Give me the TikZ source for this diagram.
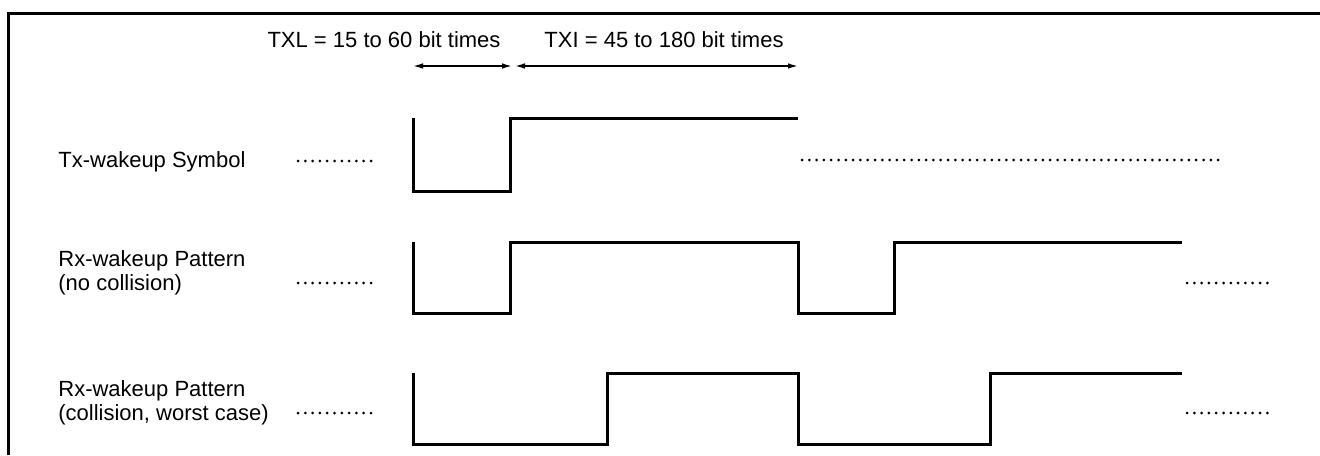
\documentclass[tikz,border=0pt]{standalone}
\usepackage{fontspec}
\setmainfont{Liberation Sans}
\usetikzlibrary{positioning, arrows.meta}

\begin{document}
\begin{tikzpicture}[x=0.5pt, y=-0.5pt,
    lbl/.style={font=\fontsize{11}{12}\selectfont, inner sep=0pt, align=left},
    sig/.style={line width=1.5pt, line join=miter},
    dotline/.style={line width=1.5pt, line cap=round, dash pattern=on 0pt off 3.65pt},
    dimarw/.style={{Latex[length=5pt,width=2.8pt]}-{Latex[length=5pt,width=2.8pt]}, line width=0.75pt},
    frm/.style={line width=1.5pt},
]
\useasboundingbox (0,0) rectangle (1320,455);

% frame
\draw[frm] (8,455) -- (8,13) -- (1320,13);

% row labels
\node[lbl, anchor=base west] (txsym) at (58,167) {Tx-wakeup Symbol};
\node[lbl, anchor=west] (rxnc) at (58,273) {Rx-wakeup Pattern\\(no collision)};
\node[lbl, anchor=west] (rxcol) at (58,403) {Rx-wakeup Pattern\\(collision, worst case)};

% timing
\node[lbl, anchor=base] (txl) at (384,47) {TXL = 15 to 60 bit times};
\node[lbl, anchor=base] (txi) at (664,47) {TXI = 45 to 180 bit times};
\coordinate (txlL) at (413,66);
\coordinate (txlR) at (512,66);
\coordinate (txiL) at (515,66);
\coordinate (txiR) at (798,66);
\draw[dimarw] (txlL) -- (txlR);
\draw[dimarw] (txiL) -- (txiR);

% waveforms
\draw[sig] (413,118) |- (510,191) |- (798,118);
\draw[sig] (413,242) |- (510,313) |- (798,242) |- (894,313) |- (1182,242);
\draw[sig] (413,373) |- (607,444) |- (798,373) |- (990,444) |- (1182,373);

% dots
\foreach \y in {161,283,413}
    \draw[dotline] (298,\y) -- (378,\y);
\draw[dotline] (802,160) -- (1224,160);
\draw[dotline] (1187,283) -- (1273,283);
\draw[dotline] (1187,413) -- (1273,413);
\end{tikzpicture}
\end{document}
